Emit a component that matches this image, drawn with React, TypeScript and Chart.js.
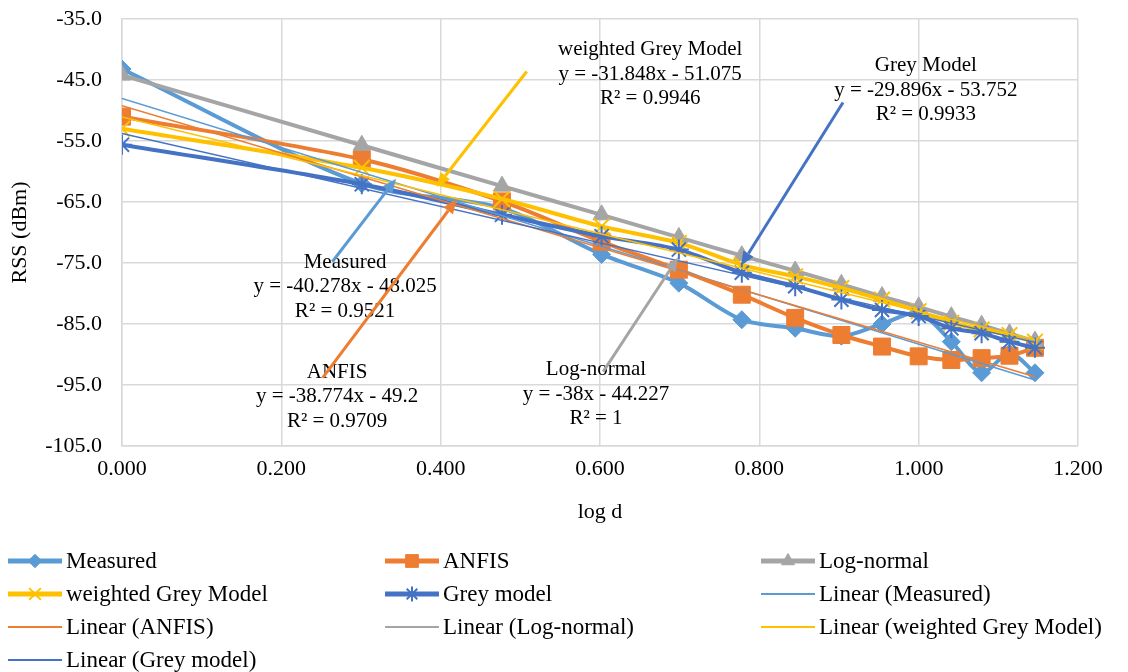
import React, { useEffect, useRef } from "react";
import { Chart, registerables } from "chart.js";
import { drawPoint } from "chart.js/helpers";

Chart.register(...registerables);

const FONT = "'Liberation Serif', 'Times New Roman', serif";

// x values: log10 of distance
const logD = [0, 0.301, 0.477, 0.602, 0.699, 0.778, 0.845, 0.903, 0.954, 1.0, 1.041, 1.079, 1.114, 1.146];

const measured = [-43.2, -62.0, -66.0, -73.6, -78.3, -84.3, -85.7, -87.0, -85.0, -83.2, -87.9, -93.0, -89.8, -93.0];
const anfis = [-51.0, -58.0, -64.9, -71.5, -76.1, -80.2, -84.0, -86.8, -88.7, -90.3, -90.9, -90.6, -90.2, -88.9];
const logNormal = [-44.2, -55.7, -62.4, -67.1, -70.8, -73.8, -76.3, -78.5, -80.5, -82.2, -83.8, -85.2, -86.6, -87.8];
const weightedGrey = [-53.0, -59.4, -64.5, -69.0, -71.7, -75.3, -77.2, -79.1, -81.0, -82.9, -84.8, -85.9, -86.8, -87.9];
const greyModel = [-55.6, -62.1, -67.1, -70.6, -72.8, -76.6, -78.8, -81.0, -82.7, -83.7, -85.7, -86.5, -87.9, -88.9];

const seriesNames = ["Measured", "ANFIS", "Log-normal", "weighted Grey Model", "Grey model"];
const seriesColors = ["#5B9BD5", "#ED7D31", "#A5A5A5", "#FFC000", "#4472C4"];
const seriesValues = [measured, anfis, logNormal, weightedGrey, greyModel];
const pointStyles = ["rectRot", "rect", "triangle", "crossRot", "star"];
const pointRadii = [9, 12, 10, 11, 10];

// Linear trendlines (as displayed in the chart)
const trendSlopes = [-40.278, -38.774, -38, -31.848, -29.896];
const trendIntercepts = [-48.025, -49.2, -44.227, -51.075, -53.752];
const trendR2 = ["0.9521", "0.9709", "1", "0.9946", "0.9933"];

// Trendline labels with leader arrows
const annotationTitles = ["Measured", "ANFIS", "Log-normal", "weighted Grey Model", "Grey Model"];
const labelAnchorX = [0.28, 0.27, 0.595, 0.663, 1.009];
const labelAnchorY = [-74.9, -92.9, -92.5, -40.0, -42.7];
const arrowTailX = [0.264, 0.252, 0.604, 0.508, 0.905];
const arrowTailY = [-74.8, -93.8, -92.8, -43.6, -48.7];
const arrowHeadX = [0.344, 0.42, 0.698, 0.395, 0.777];
const arrowHeadY = [-61.2, -64.6, -74.1, -62.5, -75.4];

const xTitle = "log d";
const yTitle = "RSS (dBm)";

function buildDatasets() {
  const ds: any[] = [];
  seriesNames.forEach((name, i) => {
    ds.push({
      label: name,
      data: logD.map((x, k) => ({ x, y: seriesValues[i][k] })),
      borderColor: seriesColors[i],
      backgroundColor: seriesColors[i],
      borderWidth: 4,
      pointStyle: pointStyles[i],
      pointRadius: pointRadii[i],
      pointBorderWidth: pointStyles[i] === "crossRot" || pointStyles[i] === "star" ? 2 : 1,
      pointBackgroundColor: seriesColors[i],
      pointBorderColor: seriesColors[i],
      tension: 0.3,
      showLine: true,
      fill: false,
    });
  });
  const xEnd = logD[logD.length - 1];
  seriesNames.forEach((name, i) => {
    ds.push({
      label: "Linear (" + name + ")",
      data: [
        { x: 0, y: trendIntercepts[i] },
        { x: xEnd, y: trendIntercepts[i] + trendSlopes[i] * xEnd },
      ],
      borderColor: seriesColors[i],
      backgroundColor: seriesColors[i],
      borderWidth: 1.5,
      pointRadius: 0,
      pointStyle: false,
      tension: 0,
      showLine: true,
      fill: false,
    });
  });
  ds.forEach((d, i) => (d.order = 20 - i));
  return ds;
}

const annotationPlugin = {
  id: "trendAnnotations",
  afterDatasetsDraw(chart: any) {
    const { ctx, scales } = chart;
    const xs = scales.x;
    const ys = scales.y;
    ctx.save();
    for (let i = 0; i < annotationTitles.length; i++) {
      const cx = xs.getPixelForValue(labelAnchorX[i]);
      const cy = ys.getPixelForValue(labelAnchorY[i]);
      const slope = trendSlopes[i];
      const icpt = trendIntercepts[i];
      const lines = [
        annotationTitles[i],
        "y = " + slope + "x - " + Math.abs(icpt),
        "R\u00B2 = " + trendR2[i],
      ];
      ctx.font = "21px " + FONT;
      ctx.fillStyle = "#000";
      ctx.textAlign = "center";
      ctx.textBaseline = "middle";
      lines.forEach((t, k) => ctx.fillText(t, cx, cy + k * 24.5));

      const x1 = xs.getPixelForValue(arrowTailX[i]);
      const y1 = ys.getPixelForValue(arrowTailY[i]);
      const x2 = xs.getPixelForValue(arrowHeadX[i]);
      const y2 = ys.getPixelForValue(arrowHeadY[i]);
      const ang = Math.atan2(y2 - y1, x2 - x1);
      const headLen = 14;
      const headHalf = 6;
      const bx = x2 - headLen * Math.cos(ang);
      const by = y2 - headLen * Math.sin(ang);
      ctx.strokeStyle = seriesColors[i];
      ctx.fillStyle = seriesColors[i];
      ctx.lineWidth = 3;
      ctx.beginPath();
      ctx.moveTo(x1, y1);
      ctx.lineTo(bx, by);
      ctx.stroke();
      ctx.beginPath();
      ctx.moveTo(x2, y2);
      ctx.lineTo(bx + headHalf * Math.sin(ang), by - headHalf * Math.cos(ang));
      ctx.lineTo(bx - headHalf * Math.sin(ang), by + headHalf * Math.cos(ang));
      ctx.closePath();
      ctx.fill();
    }
    ctx.restore();
  },
};

const legendPlugin = {
  id: "gridLegend",
  afterDraw(chart: any) {
    const { ctx } = chart;
    const datasets = chart.data.datasets;
    const colX = [8, 385, 761];
    const rowY0 = 561;
    const rowStep = 33;
    const lineLen = 54;
    ctx.save();
    datasets.forEach((d: any, i: number) => {
      const col = i % 3;
      const row = Math.floor(i / 3);
      const x0 = colX[col];
      const y = rowY0 + row * rowStep;
      ctx.strokeStyle = d.borderColor;
      ctx.lineWidth = d.borderWidth > 2 ? 5 : 2;
      ctx.beginPath();
      ctx.moveTo(x0, y);
      ctx.lineTo(x0 + lineLen, y);
      ctx.stroke();
      if (d.pointRadius > 0 && d.pointStyle) {
        ctx.fillStyle = d.pointBackgroundColor;
        ctx.strokeStyle = d.pointBorderColor;
        ctx.lineWidth = d.pointBorderWidth;
        drawPoint(ctx, { pointStyle: d.pointStyle, radius: d.pointRadius * 0.75, rotation: 0, borderWidth: d.pointBorderWidth } as any, x0 + lineLen / 2, y);
      }
      ctx.font = "23px " + FONT;
      ctx.fillStyle = "#000";
      ctx.textAlign = "left";
      ctx.textBaseline = "middle";
      ctx.fillText(d.label, x0 + lineLen + 4, y + 1);
    });
    ctx.restore();
  },
};

export default function App() {
  const ref = useRef<HTMLCanvasElement | null>(null);
  useEffect(() => {
    document.body.style.margin = "0";
    const canvas = ref.current;
    if (!canvas) return;
    const chart = new Chart(canvas, {
      type: "scatter",
      data: { datasets: buildDatasets() },
      options: {
        animation: false,
        responsive: false,
        devicePixelRatio: 1,
        layout: { padding: { left: 0, right: 50, top: 19, bottom: 145 } },
        plugins: {
          legend: { display: false },
          tooltip: { enabled: false },
        },
        scales: {
          x: {
            type: "linear",
            min: 0,
            max: 1.2,
            afterFit: (s: any) => {
              s.height = 81;
            },
            ticks: {
              stepSize: 0.2,
              padding: 0,
              color: "#000",
              font: { family: FONT, size: 22 },
              callback: (v: any) => Number(v).toFixed(3),
            },
            grid: {
              color: "#d9d9d9",
              lineWidth: 1.5,
              drawTicks: true,
              tickLength: 10,
              tickColor: "rgba(0,0,0,0)",
            },
            border: { display: true, color: "#d9d9d9", width: 1.5 },
            title: {
              display: true,
              text: xTitle,
              color: "#000",
              font: { family: FONT, size: 22 },
              padding: { top: 0, bottom: 2 },
            },
          },
          y: {
            type: "linear",
            min: -105,
            max: -35,
            afterFit: (s: any) => {
              s.width = 122;
            },
            ticks: {
              stepSize: 10,
              padding: 0,
              color: "#000",
              font: { family: FONT, size: 22 },
              callback: (v: any) => Number(v).toFixed(1),
            },
            grid: {
              color: "#d9d9d9",
              lineWidth: 1.5,
              drawTicks: true,
              tickLength: 20,
              tickColor: "rgba(0,0,0,0)",
            },
            border: { display: true, color: "#d9d9d9", width: 1.5 },
            title: {
              display: true,
              text: yTitle,
              color: "#000",
              font: { family: FONT, size: 22 },
              padding: { top: 7, bottom: 0 },
            },
          },
        },
      } as any,
      plugins: [annotationPlugin, legendPlugin],
    });
    return () => chart.destroy();
  }, []);
  return (
    <div style={{ width: 1128, height: 672, background: "#fff" }}>
      <canvas ref={ref} width={1128} height={672} style={{ display: "block" }} />
    </div>
  );
}
